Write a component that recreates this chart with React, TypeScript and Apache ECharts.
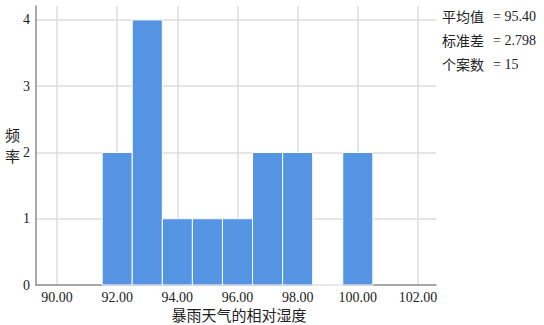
import React, { useEffect, useRef } from "react";
import * as echarts from "echarts";

const binStarts = [91.5, 92.5, 93.5, 94.5, 95.5, 96.5, 97.5, 98.5, 99.5];
const binWidth = 1;
const counts = [2, 4, 1, 1, 1, 2, 2, 0, 2];
const xTicks = [90, 92, 94, 96, 98, 100, 102];
const yTicks = [0, 1, 2, 3, 4];
const statLabels = ["平均值", "标准差", "个案数"];
const statValues = ["= 95.40", "= 2.798", "= 15"];
const xName = "暴雨天气的相对湿度";
const yName = ["频", "率"];

const SERIF = "'Liberation Serif', 'Noto Sans CJK SC', serif";
const CJK = "'Noto Sans CJK SC', 'Liberation Serif', sans-serif";

export default function App() {
  const ref = useRef<HTMLDivElement>(null);
  useEffect(() => {
    if (!ref.current) return;
    document.body.style.margin = "0";
    const chart = echarts.init(ref.current, undefined, { renderer: "svg" });
    const data = binStarts.map((s, i) => [s, s + binWidth, counts[i]]);
    const graphics: any[] = [];
    yName.forEach((ch, i) => {
      graphics.push({
        type: "text",
        left: 5,
        top: 127 + i * 21,
        style: { text: ch, font: `15px ${CJK}`, fill: "#222" },
      });
    });
    graphics.push({
      type: "text",
      x: 239,
      y: 314,
      style: { text: xName, font: `15px ${CJK}`, fill: "#222", align: "center", verticalAlign: "middle" },
    });
    statLabels.forEach((t, i) => {
      graphics.push({
        type: "text",
        x: 442,
        y: 16 + i * 24,
        style: { text: t, font: `14px ${CJK}`, fill: "#222", verticalAlign: "middle" },
      });
      graphics.push({
        type: "text",
        x: 493,
        y: 16 + i * 24,
        style: { text: statValues[i], font: `14px ${SERIF}`, fill: "#222", verticalAlign: "middle" },
      });
    });
    chart.setOption({
      animation: false,
      grid: { left: 36, right: 108, top: 6, bottom: 40, containLabel: false },
      xAxis: {
        type: "value",
        min: 89.3,
        max: 102.6,
        axisLine: { show: true, lineStyle: { color: "#8c8c8c", width: 1.5 } },
        axisTick: { show: false, customValues: xTicks },
        splitLine: { show: true, lineStyle: { color: "#dcdcdc", width: 1.5 } },
        axisLabel: {
          customValues: xTicks,
          margin: 5,
          color: "#222",
          fontFamily: SERIF,
          fontSize: 14,
          formatter: (v: number) => v.toFixed(2),
        },
      },
      yAxis: {
        type: "value",
        min: 0,
        max: 4.21,
        axisLine: { show: true, lineStyle: { color: "#8c8c8c", width: 1.5 } },
        axisTick: { show: false, customValues: yTicks },
        splitLine: { show: true, showMinLine: false, lineStyle: { color: "#dcdcdc", width: 1.5 } },
        axisLabel: {
          customValues: yTicks,
          margin: 6,
          color: "#222",
          fontFamily: SERIF,
          fontSize: 14,
          formatter: (v: number) => String(v),
        },
      },
      series: [
        {
          type: "custom",
          data,
          encode: { x: [0, 1], y: 2 },
          renderItem: (params: any, api: any) => {
            const x0 = api.value(0);
            const x1 = api.value(1);
            const c = api.value(2);
            const p0 = api.coord([x0, c]);
            const p1 = api.coord([x1, 0]);
            return {
              type: "rect",
              shape: { x: p0[0], y: p0[1], width: p1[0] - p0[0], height: p1[1] - p0[1] },
              style: { fill: "#5494e2", stroke: "#ffffff", lineWidth: 1 },
            };
          },
        },
      ],
      graphic: graphics,
    });
    return () => chart.dispose();
  }, []);
  return <div ref={ref} style={{ width: 544, height: 325 }} />;
}
